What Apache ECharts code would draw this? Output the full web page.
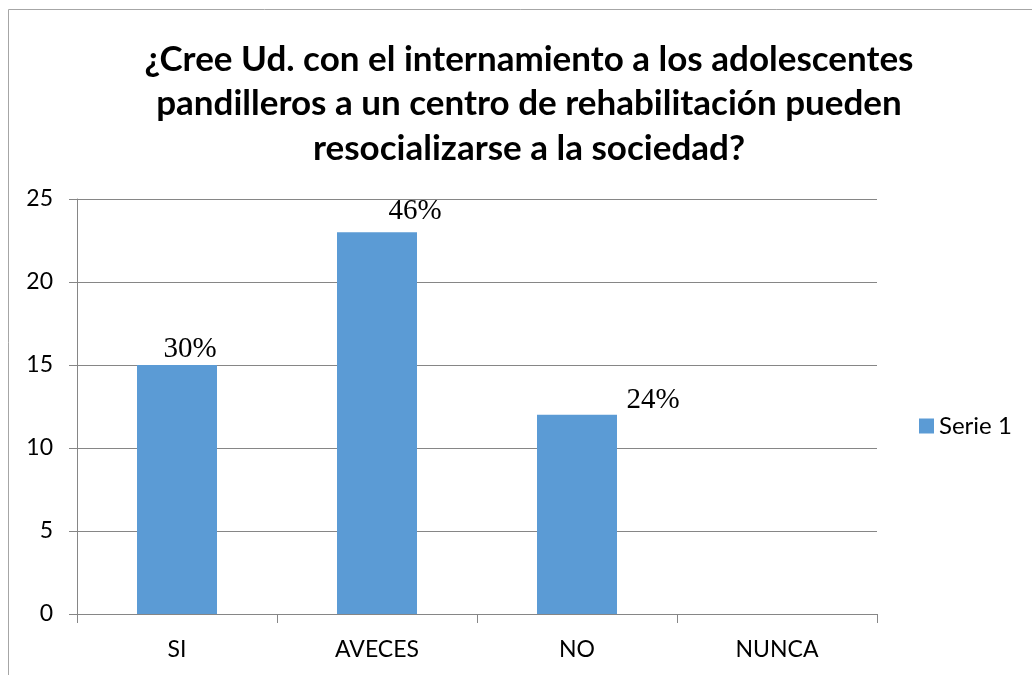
<!DOCTYPE html>
<html>
<head>
<meta charset="utf-8">
<script src="https://cdn.jsdelivr.net/npm/echarts@6/dist/echarts.min.js"></script>
<style>html,body{margin:0;padding:0;background:#fff;}#chart{width:1032px;height:675px;}</style>
</head>
<body>
<div id="chart"></div>
<script>
var titleText = '¿Cree Ud. con el internamiento a los adolescentes\npandilleros a un centro de rehabilitación pueden\nresocializarse a la sociedad?';
var categories = ['SI', 'AVECES', 'NO', 'NUNCA'];
var serieValues = [15, 23, 12, 0];
var barLabels = ['30%', '46%', '24%', ''];
var yTicks = { min: 0, max: 25, interval: 5 };
var seriesName = 'Serie 1';

var labelOffsets = [[13, -1], [38, -6], [76, 0], [0, 0]];

var chart = echarts.init(document.getElementById('chart'));
var dataItems = serieValues.map(function (v, i) {
  return {
    value: v,
    label: { offset: labelOffsets[i] }
  };
});

chart.setOption({
  animation: false,
  backgroundColor: '#fff',
  graphic: [{
    type: 'rect',
    shape: { x: 8.5, y: 9.5, width: 1100, height: 800 },
    style: { fill: 'none', stroke: '#a6a6a6', lineWidth: 1 },
    silent: true
  }],
  title: {
    text: titleText,
    left: 524,
    top: 32,
    textAlign: 'center',
    textStyle: {
      fontFamily: 'Lato',
      fontWeight: 'bold',
      fontSize: 35,
      lineHeight: 44.5,
      color: '#000'
    }
  },
  legend: {
    data: [seriesName],
    left: 914,
    top: 409,
    itemWidth: 15,
    itemHeight: 15,
    itemGap: 8,
    icon: 'rect',
    textStyle: { fontFamily: 'Lato', fontSize: 24, color: '#000' }
  },
  grid: { left: 77, right: 155, top: 199, bottom: 61, containLabel: false },
  xAxis: {
    type: 'category',
    data: categories,
    axisLine: { show: true, lineStyle: { color: '#868686', width: 1 } },
    axisTick: { show: true, alignWithLabel: false, length: 9, lineStyle: { color: '#868686' } },
    axisLabel: { fontFamily: 'Lato', fontSize: 23, color: '#000', margin: 24 },
    splitLine: { show: false }
  },
  yAxis: {
    type: 'value',
    min: yTicks.min,
    max: yTicks.max,
    interval: yTicks.interval,
    axisLine: { show: true, lineStyle: { color: '#868686', width: 1 } },
    axisTick: { show: true, length: 8, lineStyle: { color: '#868686' } },
    axisLabel: { fontFamily: 'Lato', fontSize: 23, color: '#000', margin: 24 },
    splitLine: { show: true, lineStyle: { color: '#868686', width: 1 } }
  },
  series: [{
    name: seriesName,
    type: 'bar',
    data: dataItems,
    barWidth: '40%',
    itemStyle: { color: '#5B9BD5' },
    label: {
      show: true,
      position: 'top',
      distance: 0,
      fontFamily: 'Liberation Serif',
      fontSize: 29,
      color: '#000',
      formatter: function (p) { return barLabels[p.dataIndex]; }
    }
  }]
});
</script>
</body>
</html>
